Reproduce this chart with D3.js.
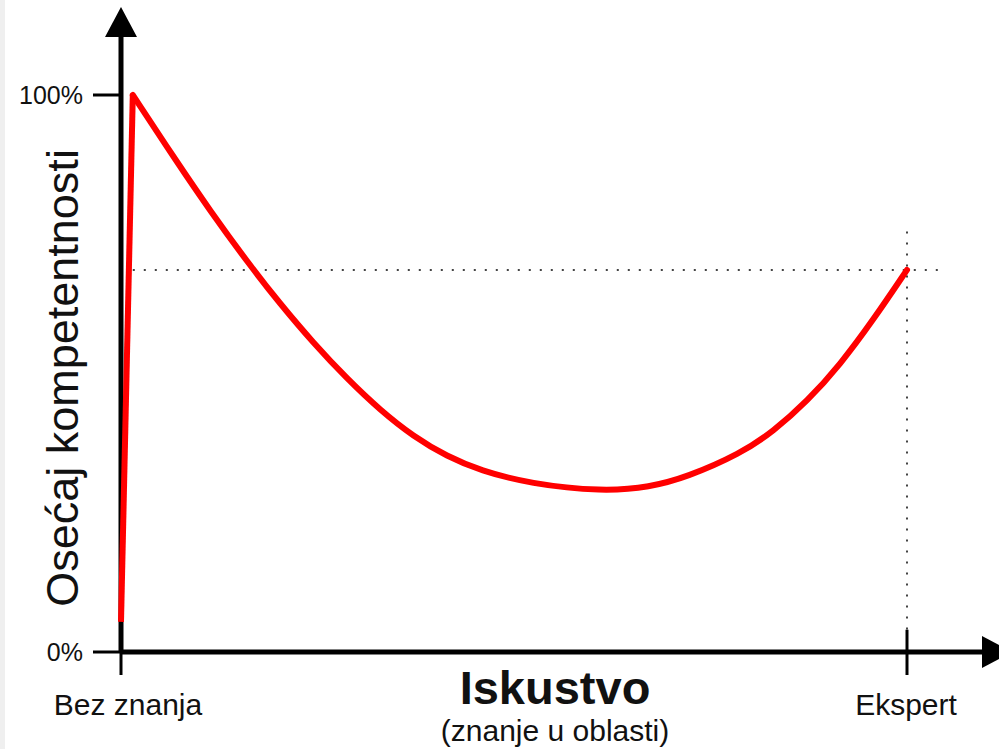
<!DOCTYPE html>
<html>
<head>
<meta charset="utf-8">
<script src="https://cdn.jsdelivr.net/npm/d3@7"></script>
<style>
  html, body { margin: 0; padding: 0; background: #ffffff; }
  svg { display: block; }
</style>
</head>
<body>
<div id="chart"></div>
<script>
// Chart data (percent of experience / percent of felt competence)
//
var riseX   = [0, 1.5];
var riseY   = [5.4, 100];
var curveX  = [1.5, 7.1, 11.3, 16.4, 20.2, 24.4, 28.8, 33.0, 37.2, 41.5, 45.7, 52.0, 61.3, 67.3, 72.0, 78.8, 83.0, 87.3, 91.5, 95.7, 100];
var curveY  = [100, 88.0, 79.3, 69.4, 62.6, 55.6, 49.0, 43.4, 38.7, 35.1, 32.6, 30.2, 28.8, 29.6, 31.4, 35.6, 39.6, 45.0, 51.6, 59.6, 68.6];
var expertLevel = 68.6;

var xTicks      = [0, 100];
var xTickLabels = ['Bez znanja', 'Ekspert'];
var yTicks      = [0, 100];
var yTickLabels = ['0%', '100%'];

var xTitle    = 'Iskustvo';
var xSubtitle = '(znanje u oblasti)';
var yTitle    = 'Osećaj kompetentnosti';

// Set globals
//
var svg_width  = 999;
var svg_height = 749;
var font       = '"Liberation Sans", Arial, Helvetica, sans-serif';

var x = d3.scaleLinear().domain([0, 100]).range([121, 907]);
var y = d3.scaleLinear().domain([0, 100]).range([652, 95]);

var svg = d3.select('#chart').append('svg')
    .attr('width', svg_width)
    .attr('height', svg_height);

// Light frame strip on the left
//
svg.append('rect')
    .attr('x', 0).attr('y', 0)
    .attr('width', 5).attr('height', svg_height)
    .attr('fill', '#efefef');

// Dotted guide lines at expert level
//
svg.append('line')
    .attr('x1', x(1.5)).attr('x2', x(105))
    .attr('y1', y(expertLevel)).attr('y2', y(expertLevel))
    .attr('stroke', '#444').attr('stroke-width', 2)
    .attr('stroke-dasharray', '2,9');

svg.append('line')
    .attr('x1', x(100)).attr('x2', x(100))
    .attr('y1', y(75.5)).attr('y2', y(4))
    .attr('stroke', '#444').attr('stroke-width', 2)
    .attr('stroke-dasharray', '2,9');

// Axes
//
var axes = svg.append('g').attr('class', 'axes');

// y axis line + arrow
axes.append('line')
    .attr('x1', x(0)).attr('x2', x(0))
    .attr('y1', y(0)).attr('y2', 36)
    .attr('stroke', 'black').attr('stroke-width', 5);
axes.append('path')
    .attr('d', `M${x(0) - 16},37 L${x(0)},7 L${x(0) + 16},37 Z`)
    .attr('fill', 'black');

// x axis line + arrow
axes.append('line')
    .attr('x1', x(0)).attr('x2', 983)
    .attr('y1', y(0)).attr('y2', y(0))
    .attr('stroke', 'black').attr('stroke-width', 5);
axes.append('path')
    .attr('d', `M982,${y(0) - 16} L1012,${y(0)} L982,${y(0) + 16} Z`)
    .attr('fill', 'black');

// y ticks
yTicks.forEach(function(t, i) {
    axes.append('line')
        .attr('x1', x(0) - 28).attr('x2', x(0))
        .attr('y1', y(t)).attr('y2', y(t))
        .attr('stroke', 'black').attr('stroke-width', 3);
    axes.append('text')
        .attr('x', x(0) - 38)
        .attr('y', y(t) + 9)
        .attr('text-anchor', 'end')
        .style('font-family', font)
        .style('font-size', '25px')
        .style('fill', '#111')
        .text(yTickLabels[i]);
});

// x ticks
xTicks.forEach(function(t, i) {
    axes.append('line')
        .attr('x1', x(t)).attr('x2', x(t))
        .attr('y1', t === 0 ? y(0) : y(4)).attr('y2', y(0) + 23)
        .attr('stroke', 'black').attr('stroke-width', 3);
    axes.append('text')
        .attr('x', x(t) + (t === 0 ? 7 : -1))
        .attr('y', 715)
        .attr('text-anchor', 'middle')
        .style('font-family', font)
        .style('font-size', '30px')
        .style('fill', '#111')
        .text(xTickLabels[i]);
});

// Axis titles
//
svg.append('text')
    .attr('x', 555).attr('y', 704)
    .attr('text-anchor', 'middle')
    .style('font-family', font)
    .style('font-size', '47px')
    .style('font-weight', 'bold')
    .style('fill', '#111')
    .text(xTitle);

svg.append('text')
    .attr('x', 555).attr('y', 741)
    .attr('text-anchor', 'middle')
    .style('font-family', font)
    .style('font-size', '30px')
    .style('fill', '#111')
    .text(xSubtitle);

svg.append('text')
    .attr('transform', 'translate(78,378) rotate(-90)')
    .attr('text-anchor', 'middle')
    .style('font-family', font)
    .style('font-size', '45px')
    .style('fill', '#111')
    .text(yTitle);

// Competence curve
//
var risePts  = riseX.map(function(d, i) { return [d, riseY[i]]; });
var curvePts = curveX.map(function(d, i) { return [d, curveY[i]]; });

var straight = d3.line()
    .x(function(d) { return x(d[0]); })
    .y(function(d) { return y(d[1]); });

var smooth = d3.line()
    .x(function(d) { return x(d[0]); })
    .y(function(d) { return y(d[1]); })
    .curve(d3.curveBasis);

var curve = svg.append('g').attr('class', 'curve');

curve.append('path')
    .attr('d', straight(risePts))
    .attr('fill', 'none')
    .attr('stroke', '#ff0000')
    .attr('stroke-width', 6)
    .attr('stroke-linejoin', 'round');

curve.append('path')
    .attr('d', smooth(curvePts))
    .attr('fill', 'none')
    .attr('stroke', '#ff0000')
    .attr('stroke-width', 6)
    .attr('stroke-linejoin', 'round')
    .attr('stroke-linecap', 'round');
</script>
</body>
</html>
